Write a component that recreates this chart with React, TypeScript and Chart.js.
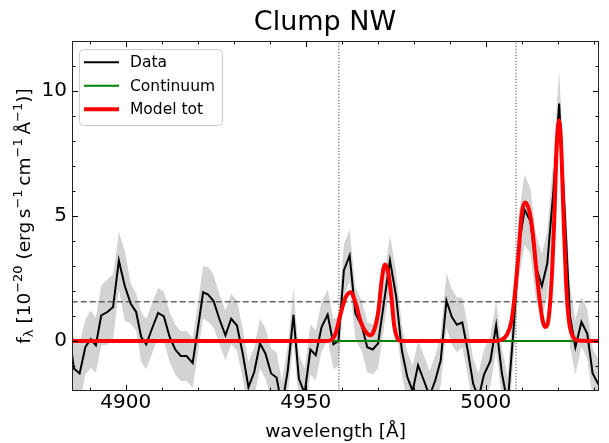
import React, { useEffect, useRef } from "react";
import { Chart, registerables } from "chart.js";

Chart.register(...registerables);

// ---------------- data ----------------
const TITLE = "Clump NW";
const X_LABEL = "wavelength [Å]";
const X_MIN = 4885.08;
const X_MAX = 5031.47;
const Y_MIN = -2;
const Y_MAX = 12;
const X_MAJOR_TICKS = [4900, 4950, 5000];
const X_MINOR_TICKS = [4890, 4910, 4920, 4930, 4940, 4960, 4970, 4980, 4990, 5010, 5020, 5030];
const Y_MAJOR_TICKS = [0, 5, 10];
const Y_MINOR_TICKS = [-1, 1, 2, 3, 4, 6, 7, 8, 9, 11];

const dataWave = [
  4884.05, 4885.6, 4887.2, 4888.8, 4890.3, 4891.7, 4893.2, 4894.9, 4896.5, 4898.1,
  4899.7, 4901.4, 4902.9, 4904.3, 4905.7, 4907.3, 4909.0, 4910.6, 4912.2, 4913.8,
  4915.3, 4916.9, 4918.6, 4920.1, 4921.5, 4922.9, 4924.4, 4926.0, 4927.7, 4929.3,
  4930.9, 4932.5, 4934.1, 4935.7, 4937.3, 4938.8, 4940.4, 4941.9, 4943.4, 4945.0,
  4946.6, 4948.1, 4949.7, 4951.3, 4952.8, 4954.4, 4956.1, 4957.7, 4959.1, 4960.6,
  4962.2, 4963.8, 4965.6, 4967.1, 4968.6, 4970.1, 4971.8, 4973.4, 4975.1, 4976.7,
  4978.2, 4979.7, 4981.2, 4982.8, 4984.4, 4986.0, 4987.5, 4989.1, 4990.6, 4992.0,
  4993.5, 4995.0, 4996.5, 4998.0, 4999.5, 5001.3, 5002.9, 5004.5, 5006.1, 5007.7,
  5009.3, 5010.8, 5012.4, 5013.9, 5015.6, 5017.1, 5018.8, 5020.4, 5022.0, 5023.4,
  5024.9, 5026.6, 5028.2, 5029.7, 5031.2, 5032.8,
];
const dataFlux = [
  0.6, -1.1, -1.3, -0.24, 0.07, -0.17, 1.02, 1.16, 1.36, 3.22,
  2.22, 1.49, 1.16, 0.16, -0.13, 0.49, 1.12, 0.98, 0.16, -0.35,
  -0.6, -0.6, -0.88, 0.55, 1.95, 1.86, 1.6, 0.89, 0.23, 0.89,
  0.62, -0.5, -1.85, -1.24, -0.1, -0.5, -1.3, -1.46, -2.6, -1.2,
  1.05, -1.5, -2.1, -0.34, -0.57, 0.56, 1.06, -0.13, 0.0, 2.82,
  3.42, 1.1, 0.6, -0.25, -0.34, -0.1, 1.6, 3.22, 1.8, -0.37,
  -1.43, -2.0, -0.97, -1.57, -2.2, -1.57, -0.77, 1.62, 0.96, 0.65,
  0.74, -0.37, -1.7, -2.3, -1.35, -0.8, 0.63, -1.3, -2.5, 0.4,
  3.9, 5.25, 4.8, 3.0, 2.2, 3.1, 6.0, 9.5, 5.0, 1.0,
  -0.25, 0.76, 0.3, -1.3, -1.7, -2.0,
];
const dataErr = [
  1.1, 1.2, 1.2, 1.1, 1.15, 1.1, 1.2, 1.3, 1.3, 1.15,
  1.4, 0.8, 0.75, 1.0, 1.0, 1.0, 1.0, 1.0, 1.0, 1.0,
  1.0, 1.0, 1.0, 1.0, 1.05, 1.1, 1.05, 1.0, 1.0, 1.0,
  1.0, 1.0, 1.0, 1.0, 1.0, 1.0, 1.0, 1.0, 1.0, 1.0,
  1.05, 1.0, 1.0, 1.0, 1.0, 1.0, 1.0, 1.0, 1.0, 1.05,
  1.05, 1.05, 1.0, 1.0, 1.0, 1.0, 1.0, 1.0, 1.0, 1.0,
  1.0, 1.0, 1.0, 1.0, 1.0, 1.0, 1.0, 1.1, 1.1, 1.1,
  1.0, 1.0, 1.0, 1.0, 1.0, 1.0, 1.0, 1.0, 1.1, 1.2,
  1.3, 1.4, 1.3, 1.3, 1.3, 1.3, 1.3, 1.3, 1.3, 1.2,
  1.1, 1.0, 1.0, 1.0, 1.0, 1.0,
];

const modelWave = [
  4880, 4955.5, 4956.9, 4958.3, 4959.7, 4961.1, 4962.5, 4963.9, 4965.3, 4966.7,
  4967.9, 4969.0, 4970.2, 4971.1, 4972.0, 4972.9, 4973.7, 4974.6, 4975.5, 4976.5,
  5002.5, 5004.0, 5005.8, 5007.2, 5008.1, 5009.1, 5010.0, 5010.9, 5012.1, 5013.1,
  5014.0, 5014.9, 5015.8, 5016.5, 5017.4, 5018.3, 5019.1, 5019.7, 5020.4, 5020.9,
  5021.6, 5022.3, 5023.1, 5024.3, 5025.5, 5035,
];
const modelFlux = [
  0, 0, 0.03, 0.3, 1.09, 1.75, 1.95, 1.49, 0.76, 0.36,
  0.23, 0.43, 1.22, 2.42, 3.06, 2.75, 1.9, 0.6, 0.1, 0,
  0, 0.03, 0.23, 0.83, 1.89, 3.48, 5.08, 5.54, 5.21, 4.28,
  2.95, 1.75, 0.83, 0.56, 0.83, 2.42, 5.08, 7.74, 8.83, 8.0,
  5.08, 2.42, 0.83, 0.16, 0.02, 0,
];

const continuumWave = [4880, 5035];
const continuumFlux = [0, 0];
const lineCentres = [4959.2, 5008.4];
const thresholdLevel = 1.57;

const LEGEND_ITEMS = [
  { label: "Data", color: "#000000", width: 2 },
  { label: "Continuum", color: "#008000", width: 2 },
  { label: "Model tot", color: "#ff0000", width: 4 },
];

const Y_LABEL_PARTS = [
  { t: "f", k: "n" },
  { t: "λ", k: "sub" },
  { t: " [10", k: "n" },
  { t: "−20", k: "sup" },
  { t: " (erg\u2009s", k: "n" },
  { t: "−1", k: "sup" },
  { t: "\u2009cm", k: "n" },
  { t: "−1", k: "sup" },
  { t: "\u2009Å", k: "n" },
  { t: "−1", k: "sup" },
  { t: ")]", k: "n" },
];

const FONT = '"DejaVu Sans", "Liberation Sans", sans-serif';

// ---------------- decorations plugin ----------------
const decorPlugin = {
  id: "decor",
  afterDraw(chart: any) {
    const { ctx, chartArea: a, scales } = chart;
    const xs = scales.x;
    const ys = scales.y;
    ctx.save();
    // ticks (inward, all sides)
    ctx.strokeStyle = "#000";
    ctx.lineWidth = 1;
    const tick = (x1: number, y1: number, x2: number, y2: number) => {
      ctx.beginPath();
      ctx.moveTo(x1, y1);
      ctx.lineTo(x2, y2);
      ctx.stroke();
    };
    const xt = (vals: number[], len: number) => {
      vals.forEach((v) => {
        const p = Math.round(xs.getPixelForValue(v)) + 0.5;
        tick(p, a.bottom, p, a.bottom - len);
        tick(p, a.top, p, a.top + len);
      });
    };
    const yt = (vals: number[], len: number) => {
      vals.forEach((v) => {
        const p = Math.round(ys.getPixelForValue(v)) + 0.5;
        tick(a.left, p, a.left + len, p);
        tick(a.right, p, a.right - len, p);
      });
    };
    xt(X_MAJOR_TICKS, 6);
    xt(X_MINOR_TICKS, 3.5);
    yt(Y_MAJOR_TICKS, 6);
    yt(Y_MINOR_TICKS, 3.5);
    // frame
    ctx.strokeStyle = "#222";
    ctx.lineWidth = 1;
    ctx.strokeRect(a.left + 0.5, a.top + 0.5, a.right - a.left - 1, a.bottom - a.top - 1);

    // title
    ctx.fillStyle = "#000";
    ctx.font = `27px ${FONT}`;
    ctx.textAlign = "center";
    ctx.textBaseline = "alphabetic";
    ctx.fillText(TITLE, 325, 30);

    // x label
    ctx.font = `18.5px ${FONT}`;
    ctx.fillText(X_LABEL, (a.left + a.right) / 2, 437);

    // y label (rotated, with sub/superscripts)
    const big = 18.5;
    const small = 13;
    const fontFor = (k: string) => `${k === "n" ? big : small}px ${FONT}`;
    let total = 0;
    const widths = Y_LABEL_PARTS.map((p) => {
      ctx.font = fontFor(p.k);
      const w = ctx.measureText(p.t).width;
      total += w;
      return w;
    });
    ctx.translate(29.5, (a.top + a.bottom) / 2);
    ctx.rotate(-Math.PI / 2);
    ctx.textAlign = "left";
    let cx = -total / 2;
    Y_LABEL_PARTS.forEach((p, i) => {
      ctx.font = fontFor(p.k);
      const dy = p.k === "sub" ? 3.5 : p.k === "sup" ? -7.5 : 0;
      ctx.fillText(p.t, cx, dy);
      cx += widths[i];
    });
    ctx.restore();

    // legend
    ctx.save();
    const lx = 79.5, ly = 49.5, lw = 143, lh = 76, r = 4;
    ctx.beginPath();
    ctx.moveTo(lx + r, ly);
    ctx.lineTo(lx + lw - r, ly);
    ctx.arcTo(lx + lw, ly, lx + lw, ly + r, r);
    ctx.lineTo(lx + lw, ly + lh - r);
    ctx.arcTo(lx + lw, ly + lh, lx + lw - r, ly + lh, r);
    ctx.lineTo(lx + r, ly + lh);
    ctx.arcTo(lx, ly + lh, lx, ly + lh - r, r);
    ctx.lineTo(lx, ly + r);
    ctx.arcTo(lx, ly, lx + r, ly, r);
    ctx.closePath();
    ctx.fillStyle = "rgba(255,255,255,0.8)";
    ctx.fill();
    ctx.strokeStyle = "#cccccc";
    ctx.lineWidth = 1;
    ctx.stroke();
    ctx.font = `15.5px ${FONT}`;
    ctx.textAlign = "left";
    ctx.textBaseline = "middle";
    LEGEND_ITEMS.forEach((it, i) => {
      const yy = 62.3 + i * 23.5;
      ctx.strokeStyle = it.color;
      ctx.lineWidth = it.width;
      ctx.beginPath();
      ctx.moveTo(84, yy);
      ctx.lineTo(119, yy);
      ctx.stroke();
      ctx.fillStyle = "#000";
      ctx.fillText(it.label, 130, yy + 1);
    });
    ctx.restore();
  },
};

export default function App() {
  const canvasRef = useRef<HTMLCanvasElement | null>(null);

  useEffect(() => {
    const canvas = canvasRef.current;
    if (!canvas) return;
    const upper = dataWave.map((w, i) => ({ x: w, y: dataFlux[i] + dataErr[i] }));
    const lower = dataWave.map((w, i) => ({ x: w, y: dataFlux[i] - dataErr[i] }));
    const dataPts = dataWave.map((w, i) => ({ x: w, y: dataFlux[i] }));
    const modelPts = modelWave.map((w, i) => ({ x: w, y: modelFlux[i] }));
    const contPts = continuumWave.map((w, i) => ({ x: w, y: continuumFlux[i] }));

    const common = { pointRadius: 0, pointHoverRadius: 0, clip: 0 as any, tension: 0 };

    const chart = new Chart(canvas, {
      type: "line",
      data: {
        datasets: [
          {
            label: "err_up",
            data: upper,
            borderWidth: 0,
            borderColor: "rgba(0,0,0,0)",
            backgroundColor: "#d3d3d3",
            fill: "+1",
            order: 10,
            ...common,
          },
          {
            label: "err_lo",
            data: lower,
            borderWidth: 0,
            borderColor: "rgba(0,0,0,0)",
            fill: false,
            order: 11,
            ...common,
          },
          ...lineCentres.map((c) => ({
            label: "centre",
            data: [
              { x: c, y: Y_MIN - 1 },
              { x: c, y: Y_MAX + 1 },
            ],
            borderColor: "#777777",
            borderWidth: 1.3,
            borderDash: [1.3, 1.7],
            fill: false,
            order: 8,
            ...common,
          })),
          {
            label: "threshold",
            data: [
              { x: continuumWave[0], y: thresholdLevel },
              { x: continuumWave[1], y: thresholdLevel },
            ],
            borderColor: "#666666",
            borderWidth: 1.4,
            borderDash: [6, 3],
            fill: false,
            order: 7,
            ...common,
          },
          {
            label: "Data",
            data: dataPts,
            borderColor: "#000000",
            borderWidth: 2,
            fill: false,
            order: 3,
            ...common,
          },
          {
            label: "Continuum",
            data: contPts,
            borderColor: "#008000",
            borderWidth: 2,
            fill: false,
            order: 2,
            ...common,
          },
          {
            label: "Model tot",
            data: modelPts,
            borderColor: "#ff0000",
            borderWidth: 4,
            fill: false,
            order: 1,
            ...common,
            cubicInterpolationMode: "monotone",
          },
        ],
      },
      options: {
        animation: false,
        responsive: false,
        maintainAspectRatio: false,
        events: [],
        layout: { padding: { top: 41, right: 10, left: 0, bottom: 0 } },
        plugins: {
          legend: { display: false },
          tooltip: { enabled: false },
          title: { display: false },
        },
        scales: {
          x: {
            type: "linear",
            min: X_MIN,
            max: X_MAX,
            grid: { display: false, drawTicks: false },
            border: { display: false },
            ticks: {
              font: { family: FONT, size: 20 },
              color: "#000",
              padding: 0,
              autoSkip: false,
              maxRotation: 0,
              callback: (v: any) => String(v),
            },
            afterBuildTicks: (s: any) => {
              s.ticks = X_MAJOR_TICKS.map((v) => ({ value: v }));
            },
            afterFit: (s: any) => {
              s.height = 52;
            },
          },
          y: {
            type: "linear",
            min: Y_MIN,
            max: Y_MAX,
            grid: { display: false, drawTicks: false },
            border: { display: false },
            ticks: {
              font: { family: FONT, size: 20 },
              color: "#000",
              padding: 5,
              autoSkip: false,
              callback: (v: any) => String(v),
            },
            afterBuildTicks: (s: any) => {
              s.ticks = Y_MAJOR_TICKS.map((v) => ({ value: v }));
            },
            afterFit: (s: any) => {
              s.width = 72;
            },
          },
        },
      },
      plugins: [decorPlugin],
    });
    return () => chart.destroy();
  }, []);

  return (
    <div style={{ position: "absolute", left: 0, top: 0, width: 609, height: 443, background: "#fff" }}>
      <canvas ref={canvasRef} width={609} height={443} style={{ display: "block" }} />
    </div>
  );
}
